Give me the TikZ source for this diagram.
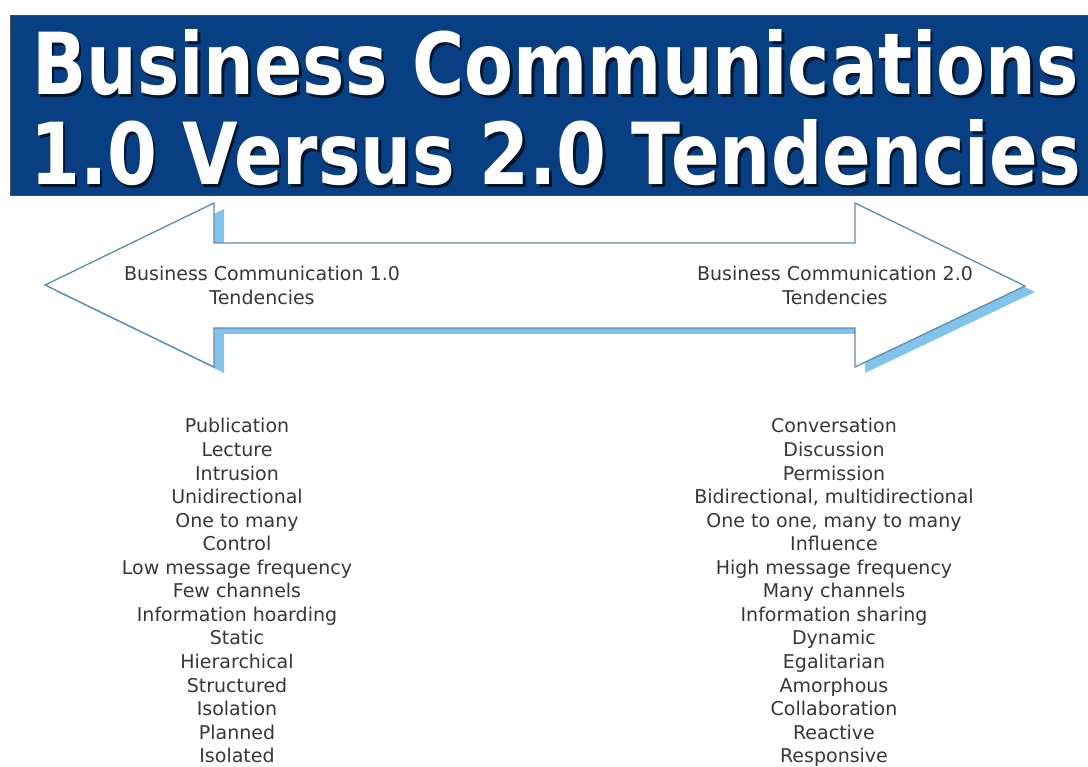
\documentclass[tikz,border=0pt]{standalone}
\usepackage{fontspec}
\usepackage{graphicx}
\newfontfamily\dejavu{DejaVu Sans}
\definecolor{bannerblue}{RGB}{8,62,130}
\definecolor{arrline}{RGB}{95,140,170}
\definecolor{arrshadow}{RGB}{130,195,235}
\definecolor{listtext}{RGB}{55,55,55}
\newcommand{\shadowed}[1]{\makebox[0pt][l]{\kern0.35pt\raisebox{-0.3pt}{\textcolor{bannerblue!35!black}{#1}}}#1}
\begin{document}
\begin{tikzpicture}[x=1pt,y=-1pt,
  titletext/.style={anchor=base west,inner sep=0pt,text=white,font=\dejavu\bfseries},
  bannerbox/.style={draw=black!70,line width=1pt,fill=bannerblue,anchor=north west,inner sep=0pt},
  arrowbody/.style={fill=white,draw=arrline,line width=1.3pt,line join=miter},
  arrowshade/.style={fill=arrshadow},
  lbl/.style={anchor=base,inner sep=0pt,text=listtext,font=\dejavu\fontsize{19}{23}\selectfont},
  item/.style={anchor=base,inner sep=0pt,text=listtext,font=\dejavu\fontsize{19}{23}\selectfont}]
\useasboundingbox (0,0) rectangle (1088,767);
\fill[white] (0,0) rectangle (1088,767);
% banner
\node[bannerbox,minimum width=1085pt,minimum height=180pt] (banner) at (10,15) {};
\node[titletext] (t1) at (32,95) {\resizebox{1046pt}{65pt}{\shadowed{Business Communications}}};
\node[titletext] (t2) at (30,185) {\resizebox{1050pt}{65pt}{\shadowed{1.0 Versus 2.0 Tendencies}}};
% double arrow
\coordinate (LT) at (45,285);
\coordinate (LHT) at (214,203);
\coordinate (LST) at (214,243);
\coordinate (RST) at (855,243);
\coordinate (RHT) at (855,203);
\coordinate (RT) at (1025,286);
\coordinate (RHB) at (855,367);
\coordinate (RSB) at (855,328);
\coordinate (LSB) at (214,328);
\coordinate (LHB) at (214,367);
\fill[arrowshade] ([shift={(10,6)}]LT) -- ([shift={(10,6)}]LHT) -- ([shift={(10,6)}]LST) -- ([shift={(10,6)}]RST) -- ([shift={(10,6)}]RHT) -- ([shift={(10,6)}]RT) -- ([shift={(10,6)}]RHB) -- ([shift={(10,6)}]RSB) -- ([shift={(10,6)}]LSB) -- ([shift={(10,6)}]LHB) -- cycle;
\filldraw[arrowbody] (LT) -- (LHT) -- (LST) -- (RST) -- (RHT) -- (RT) -- (RHB) -- (RSB) -- (LSB) -- (LHB) -- cycle;
% arrow labels
\node[lbl] (la1) at (262,281) {Business Communication 1.0};
\node[lbl] (la2) at (262,305) {Tendencies};
\node[lbl] (lb1) at (835,281) {Business Communication 2.0};
\node[lbl] (lb2) at (835,305) {Tendencies};
% lists
\foreach \t [count=\i] in {Publication,Lecture,Intrusion,Unidirectional,One to many,Control,Low message frequency,Few channels,Information hoarding,Static,Hierarchical,Structured,Isolation,Planned,Isolated}
  \node[item] (left\i) at (237,{433+23.55*(\i-1)}) {\t};
\foreach \t [count=\i] in {Conversation,Discussion,Permission,{Bidirectional, multidirectional},{One to one, many to many},Influence,High message frequency,Many channels,Information sharing,Dynamic,Egalitarian,Amorphous,Collaboration,Reactive,Responsive}
  \node[item] (right\i) at (834,{433+23.55*(\i-1)}) {\t};
\end{tikzpicture}
\end{document}
